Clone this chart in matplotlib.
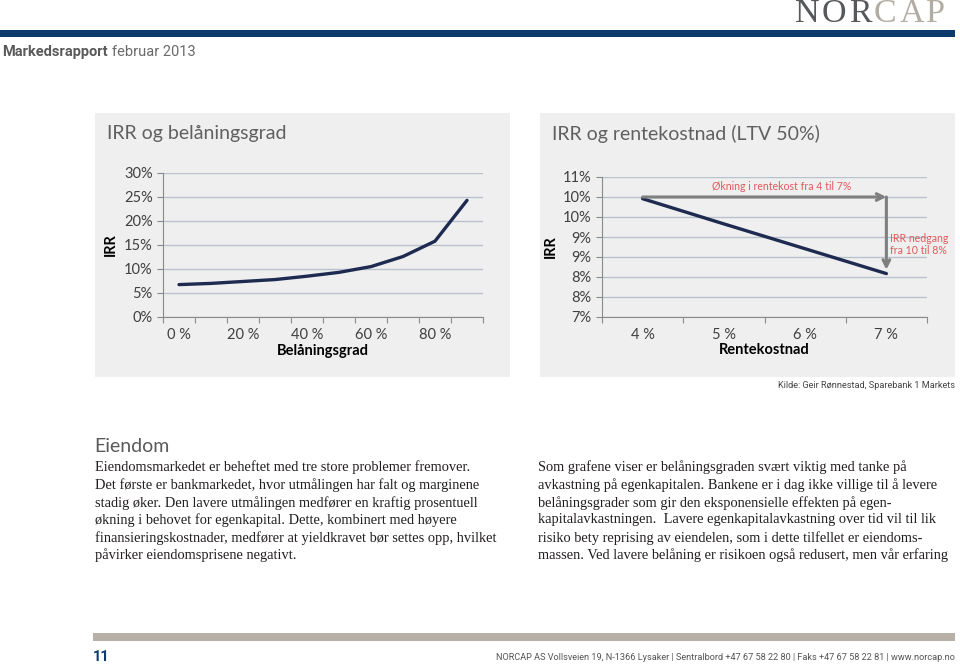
import matplotlib
matplotlib.use("Agg")
import matplotlib.pyplot as plt
from matplotlib.patches import Rectangle
import numpy as np

# data
ltv = [0, 10, 20, 30, 40, 50, 60, 70, 80, 90]
ltv_labels = ["0 %", "20 %", "40 %", "60 %", "80 %"]
irr_ltv = [6.75, 7.0, 7.4, 7.8, 8.5, 9.3, 10.5, 12.6, 15.8, 24.3]

rente = ["4 %", "5 %", "6 %", "7 %"]
irr_rente = [10.38, 9.66, 8.95, 8.24]

left_lines = [
    "Eiendomsmarkedet er beheftet med tre store problemer fremover.",
    "Det første er bankmarkedet, hvor utmålingen har falt og marginene",
    "stadig øker. Den lavere utmålingen medfører en kraftig prosentuell",
    "økning i behovet for egenkapital. Dette, kombinert med høyere",
    "finansieringskostnader, medfører at yieldkravet bør settes opp, hvilket",
    "påvirker eiendomsprisene negativt.",
]
right_lines = [
    "Som grafene viser er belåningsgraden svært viktig med tanke på",
    "avkastning på egenkapitalen. Bankene er i dag ikke villige til å levere",
    "belåningsgrader som gir den eksponensielle effekten på egen-",
    "kapitalavkastningen.  Lavere egenkapitalavkastning over tid vil til lik",
    "risiko bety reprising av eiendelen, som i dette tilfellet er eiendoms-",
    "massen. Ved lavere belåning er risikoen også redusert, men vår erfaring",
]

W, H = 960, 665
NAVY = "#0c3a6e"
LINE = "#1e2a50"
GRID = "#b8c2cf"
CHART_FONT = ["Lato", "DejaVu Sans"]
NARROW = ["Roboto", "DejaVu Sans"]
SERIF = ["Liberation Serif", "DejaVu Serif"]

def fx(px): return px / W
def fy(py): return 1 - py / H

fig = plt.figure(figsize=(9.6, 6.65), dpi=100)
fig.patch.set_facecolor("white")
renderer = fig.canvas.get_renderer()

def rect(x0, y0, x1, y1, color):
    fig.add_artist(Rectangle((fx(x0), fy(y1)), fx(x1) - fx(x0), fy(y0) - fy(y1),
                             transform=fig.transFigure, color=color, lw=0, zorder=0))

def txt(x, y, s, **kw):
    kw.setdefault("va", "center")
    return fig.text(fx(x), fy(y), s, **kw)

# header logo, letters with a little extra spacing
xpos = 795
for i, ch in enumerate("NORCAP"):
    t = txt(xpos, 22, ch, ha="left", va="baseline", fontsize=24.5,
            color="#56585c" if i < 3 else "#b3aca2", family=SERIF)
    xpos = t.get_window_extent(renderer).x1 + 2.5
rect(0, 30, 955, 37, NAVY)
t = txt(2, 52, "Markedsrapport", fontsize=10.5, fontweight="bold", color="#5a5a5a", family=NARROW)
x_end = t.get_window_extent(renderer).x1
txt(x_end + 4, 52, "februar 2013", fontsize=10.5, color="#6a6a6a", family=NARROW)

# chart panels
rect(95, 113, 510, 377, "#efefef")
rect(540, 113, 955, 377, "#efefef")
txt(107, 134, "IRR og belåningsgrad", fontsize=14, color="#606060", family=CHART_FONT)
txt(552, 134, "IRR og rentekostnad (LTV 50%)", fontsize=14, color="#606060", family=CHART_FONT)

def style_axes(ax):
    ax.set_facecolor("none")
    ax.grid(axis="y", color=GRID, lw=1)
    ax.set_axisbelow(True)
    for s in ["top", "right"]:
        ax.spines[s].set_visible(False)
    ax.spines["left"].set_color("#8a8a8a")
    ax.spines["bottom"].set_color("#8a8a8a")
    ax.tick_params(axis="y", length=4, color="#8a8a8a", labelsize=10.5, labelcolor="#404040")
    ax.tick_params(axis="x", which="major", length=4, color="#8a8a8a", labelbottom=False)
    ax.tick_params(axis="x", which="minor", length=0, labelsize=10.5, labelcolor="#404040", pad=8)
    for lab in ax.get_yticklabels() + ax.get_xticklabels(minor=True):
        lab.set_family(CHART_FONT)

# left chart
ax1 = fig.add_axes([fx(163), fy(317), fx(483) - fx(163), fy(173) - fy(317)])
x1 = np.arange(len(ltv))
ax1.plot(x1, np.array(irr_ltv) / 100, color=LINE, lw=2.4, solid_capstyle="round")
ax1.set_xlim(-0.5, len(ltv) - 0.5)
ax1.set_ylim(0, 0.30)
ax1.set_yticks(np.arange(0, 0.301, 0.05))
ax1.set_yticklabels([f"{v*100:.0f}%" for v in np.arange(0, 0.301, 0.05)])
ax1.set_xticks(np.arange(-0.5, len(ltv)))
ax1.set_xticks(x1[::2], minor=True)
ax1.set_xticklabels(ltv_labels, minor=True)
style_axes(ax1)
ax1.set_xlabel("Belåningsgrad", fontsize=10.5, fontweight="bold", family=CHART_FONT, labelpad=1)
ax1.set_ylabel("IRR", fontsize=10.5, fontweight="bold", family=CHART_FONT, labelpad=4)

# right chart
ax2 = fig.add_axes([fx(602), fy(317), fx(927) - fx(602), fy(177) - fy(317)])
x2 = np.arange(len(rente))
ax2.plot(x2, irr_rente, color=LINE, lw=2.4, solid_capstyle="round")
ax2.set_xlim(-0.5, len(rente) - 0.5)
ax2.set_ylim(7, 11)
yt = np.linspace(7, 11, 8)
ax2.set_yticks(yt)
ax2.set_yticklabels([f"{v:.0f}%" for v in yt])
ax2.set_xticks(np.arange(-0.5, len(rente)))
ax2.set_xticks(x2, minor=True)
ax2.set_xticklabels(rente, minor=True)
style_axes(ax2)
ax2.set_xlabel("Rentekostnad", fontsize=10.5, fontweight="bold", family=CHART_FONT, labelpad=1)
ax2.set_ylabel("IRR", fontsize=10.5, fontweight="bold", family=CHART_FONT, labelpad=4)

arr = dict(arrowstyle="->", color="#7f7f7f", lw=2.2, mutation_scale=12, shrinkA=0, shrinkB=0)
ax2.annotate("", xy=(3, yt[6]), xytext=(0, yt[6]), arrowprops=arr)
ax2.annotate("", xy=(3, 8.35), xytext=(3, yt[6]), arrowprops=arr)
ax2.text(1.71, 10.72, "Økning i rentekost fra 4 til 7%", ha="center", va="center",
         fontsize=7.6, color="#e05a5e", family=CHART_FONT)
ax2.text(3.04, 9.07, "IRR nedgang\nfra 10 til 8%", ha="left", va="center",
         fontsize=7.6, color="#e05a5e", family=CHART_FONT, linespacing=1.1)

txt(955, 386, "Kilde: Geir Rønnestad, Sparebank 1 Markets", ha="right", fontsize=6.6,
    color="#444444", family=NARROW)

# body text
txt(94, 447, "Eiendom", fontsize=14, color="#5a5a5a", family=CHART_FONT)
ys = [467, 485, 503, 520, 538, 555]
for y, s in zip(ys, left_lines):
    txt(95, y, s, fontsize=10.4, color="#231f20", family=SERIF)
for y, s in zip(ys, right_lines):
    txt(538, y, s, fontsize=10.4, color="#231f20", family=SERIF)

# footer
rect(93, 633, 955, 641, "#b6b0a7")
txt(93, 657, "11", fontsize=10.5, fontweight="bold", color=NAVY, family=NARROW)
txt(955, 657, "NORCAP AS Vollsveien 19, N-1366 Lysaker | Sentralbord +47 67 58 22 80 | Faks +47 67 58 22 81 | www.norcap.no",
    ha="right", fontsize=6.6, color="#555555", family=NARROW)

fig.savefig("out.png", dpi=100)
